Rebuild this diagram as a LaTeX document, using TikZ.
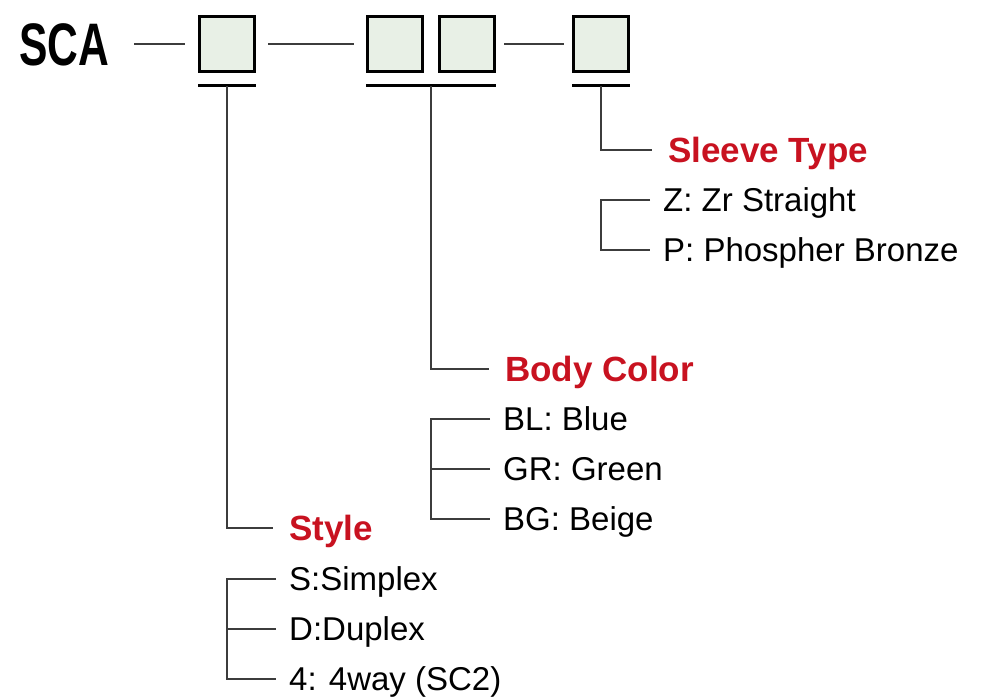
\documentclass[tikz,border=0pt]{standalone}
\usepackage{fontspec}
\usepackage{graphicx}
\setmainfont{Liberation Sans}
\usetikzlibrary{calc}
\definecolor{scared}{RGB}{200,18,32}
\definecolor{slotfill}{RGB}{232,240,230}
\definecolor{leadgray}{RGB}{60,60,60}

\begin{document}
\begin{tikzpicture}[
  x=1pt,y=-1pt,
  slot/.style={draw=black,line width=3pt,fill=slotfill,minimum size=55pt,inner sep=0pt},
  bar/.style={line width=3pt},
  lead/.style={draw=leadgray,line width=1.6pt},
  title/.style={anchor=west,inner xsep=16pt,inner ysep=0pt,text height=25pt,text depth=0pt,
    font=\fontsize{35}{40}\selectfont\bfseries,text=scared},
  item/.style={anchor=west,inner xsep=13pt,inner ysep=0pt,text height=23.6pt,text depth=0pt,
    font=\fontsize{33}{38}\selectfont}
]
  \useasboundingbox (0,0) rectangle (991,698);
  % Part number
  \node[anchor=west,inner sep=0pt,text height=43pt,text depth=0pt,
    font=\bfseries\fontsize{60}{60}\selectfont] (sca) at (19,44) {\scalebox{0.71}[1]{SCA}};
  % Code slots
  \node[slot] (b1) at (227,44) {};
  \node[slot] (b2) at (395,44) {};
  \node[slot] (b3) at (467,44) {};
  \node[slot] (b4) at (601,44) {};
  \draw[lead,shorten <=25pt,shorten >=13pt] (sca) -- (b1);
  \draw[lead,shorten <=12pt,shorten >=12pt] (b1) -- (b2);
  \draw[lead,shorten <=8pt,shorten >=8pt] (b3) -- (b4);
  % Underbars
  \draw[bar] ([yshift=-13pt]b1.south west) -- ([yshift=-13pt]b1.south east);
  \draw[bar] ([yshift=-13pt]b2.south west) -- ([yshift=-13pt]b3.south east);
  \draw[bar] ([yshift=-13pt]b4.south west) -- ([yshift=-13pt]b4.south east);
  \path (b1.south) ++(0,13) coordinate (u1);
  \path ($(b2.south)!0.5!(b3.south)$) ++(0,13) coordinate (u2);
  \path (b4.south) ++(0,13) coordinate (u3);
  % Sleeve type
  \node[title] (sleeve) at (652,150) {Sleeve Type};
  \node[item] (slv1) at (650,200) {Z: Zr Straight};
  \node[item] (slv2) at (650,250) {P: Phospher Bronze};
  % Body color
  \node[title] (body) at (489,369) {Body Color};
  \node[item] (bdy1) at (490,419) {BL: Blue};
  \node[item] (bdy2) at (490,469) {GR: Green};
  \node[item] (bdy3) at (490,519) {BG: Beige};
  % Style
  \node[title] (style) at (273,528) {Style};
  \node[item] (sty1) at (276,579) {S:Simplex};
  \node[item] (sty2) at (276,629) {D:Duplex};
  \node[item] (sty3) at (276,679) {4: 4way (SC2)};
  % Leads
  \draw[lead] (u3) |- (sleeve);
  \draw[lead] (u2) |- (body);
  \draw[lead] (u1) |- (style);
  \draw[lead] (slv1.west) -- (slv1.west -| u3) |- (slv2.west);
  \draw[lead] (bdy1.west) -- (bdy1.west -| u2) |- (bdy3.west);
  \draw[lead] (bdy2.west) -- (bdy2.west -| u2);
  \draw[lead] (sty1.west) -- (sty1.west -| u1) |- (sty3.west);
  \draw[lead] (sty2.west) -- (sty2.west -| u1);
\end{tikzpicture}
\end{document}
